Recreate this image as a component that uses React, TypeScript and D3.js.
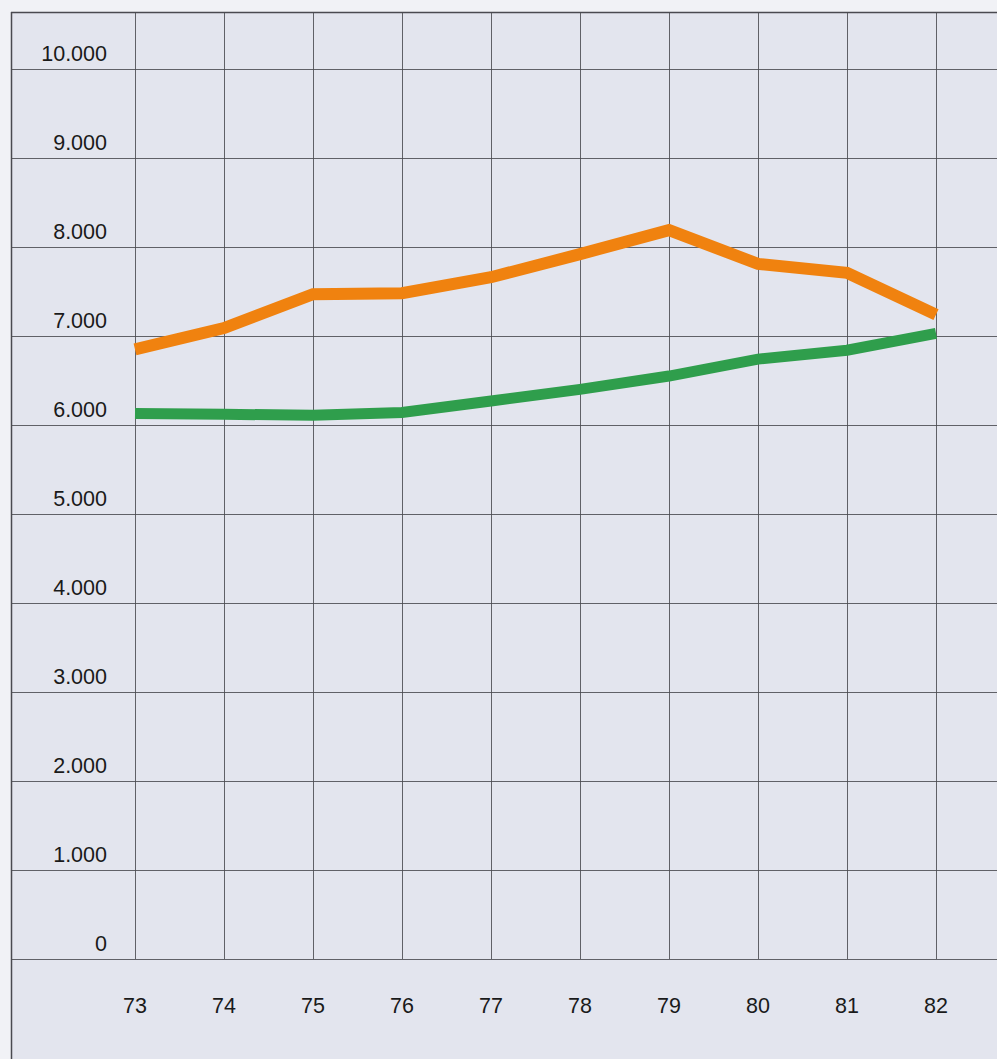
import React from "react";
import * as d3 from "d3";

const years: string[] = ["73", "74", "75", "76", "77", "78", "79", "80", "81", "82"];
const orangeValues: number[] = [6850, 7090, 7470, 7480, 7660, 7920, 8190, 7810, 7710, 7240];
const greenValues: number[] = [6130, 6120, 6110, 6140, 6270, 6400, 6550, 6740, 6840, 7030];
const yTicks: number[] = [0, 1000, 2000, 3000, 4000, 5000, 6000, 7000, 8000, 9000, 10000];

const W = 997;
const H = 1059;
const left = 11;
const top = 12;
const y0 = 959;
const y10 = 69;

const locale = d3.formatLocale({ decimal: ",", thousands: ".", grouping: [3], currency: ["", ""] });
const fmt = locale.format(",d");

export default function App() {
  const x = d3.scalePoint<string>().domain(years).range([135, 936]);
  const y = d3.scaleLinear().domain([0, 10000]).range([y0, y10]);
  const line = d3
    .line<number>()
    .x((_, i) => x(years[i]) as number)
    .y((d) => y(d));

  const gridColor = "#4a4a50";
  const font = "'Liberation Sans', Arial, Helvetica, sans-serif";

  return (
    <svg
      width={W}
      height={H}
      style={{ position: "absolute", left: 0, top: 0, display: "block" }}
    >
      <rect x={0} y={0} width={W} height={H} fill="#f1f2f6" />
      <rect x={left} y={top} width={W - left} height={H - top} fill="#e3e5ee" />
      {/* top border */}
      <line x1={left} x2={W} y1={top + 0.5} y2={top + 0.5} stroke={gridColor} strokeWidth={1.3} />
      {/* left border */}
      <line x1={left + 0.5} x2={left + 0.5} y1={top} y2={H} stroke={gridColor} strokeWidth={1.5} />
      {/* horizontal grid */}
      {yTicks.map((t) => (
        <line
          key={"h" + t}
          x1={left}
          x2={W}
          y1={Math.round(y(t)) + 0.5}
          y2={Math.round(y(t)) + 0.5}
          stroke={gridColor}
          strokeWidth={1}
          opacity={0.85}
        />
      ))}
      {/* vertical grid */}
      {years.map((yr) => (
        <line
          key={"v" + yr}
          x1={Math.round(x(yr) as number) + 0.5}
          x2={Math.round(x(yr) as number) + 0.5}
          y1={top}
          y2={y0}
          stroke={gridColor}
          strokeWidth={1}
          opacity={0.85}
        />
      ))}
      {/* y labels */}
      {yTicks.map((t) => (
        <text
          key={"yl" + t}
          x={107}
          y={y(t) - 8}
          textAnchor="end"
          fontFamily={font}
          fontSize={21.5}
          fill="#1a1a1a"
        >
          {fmt(t)}
        </text>
      ))}
      {/* x labels */}
      {years.map((yr) => (
        <text
          key={"xl" + yr}
          x={x(yr) as number}
          y={1013}
          textAnchor="middle"
          fontFamily={font}
          fontSize={21.5}
          fill="#1a1a1a"
        >
          {yr}
        </text>
      ))}
      <path
        d={line(greenValues) || ""}
        fill="none"
        stroke="#2f9e4c"
        strokeWidth={11}
        strokeLinejoin="miter"
        strokeLinecap="butt"
      />
      <path
        d={line(orangeValues) || ""}
        fill="none"
        stroke="#f0820f"
        strokeWidth={12}
        strokeLinejoin="miter"
        strokeLinecap="butt"
      />
    </svg>
  );
}
